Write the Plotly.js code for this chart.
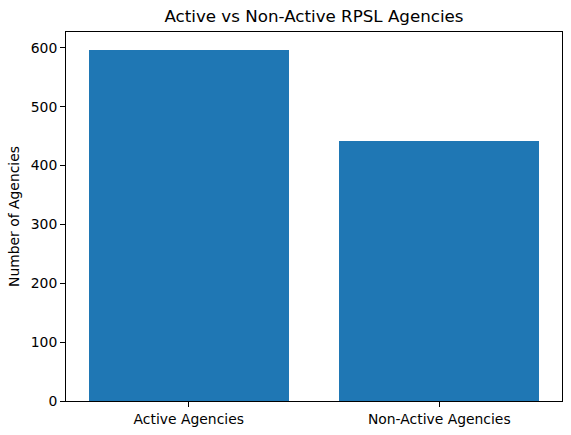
<!DOCTYPE html>
<html><head><meta charset="utf-8">
<script src="https://cdn.plot.ly/plotly-3.0.1.min.js"></script>
<style>html,body{margin:0;padding:0;background:#fff}#c{width:571px;height:435px}</style>
</head><body><div id="c"></div>
<script>
var categories = ["Active Agencies", "Non-Active Agencies"];
var counts = [597, 441];
var yTicks = [0, 100, 200, 300, 400, 500, 600];

var trace = {
  type: "bar",
  x: [0, 1],
  y: counts,
  width: 0.8,
  marker: {color: "#1f77b4", line: {width: 0}},
  hoverinfo: "none"
};
var layout = {
  width: 571, height: 435,
  margin: {l: 66, r: 9, t: 32, b: 34, pad: 0},
  paper_bgcolor: "#fff", plot_bgcolor: "#fff",
  font: {family: "DejaVu Sans", size: 13.9, color: "#000"},
  title: {text: "Active vs Non-Active RPSL Agencies", font: {size: 16.7, color: "#000"}, x: 0.5, xanchor: "center", xref: "paper", y: 1, yref: "container", yanchor: "top", pad: {t: 10}},
  bargap: 0,
  showlegend: false,
  xaxis: {
    range: [-0.49, 1.49],
    tickvals: [0, 1], ticktext: categories,
    ticks: "outside", ticklen: 5, tickwidth: 1, tickcolor: "#000",
    showline: true, linecolor: "#000", linewidth: 1, mirror: true,
    showgrid: false, zeroline: false, fixedrange: true
  },
  yaxis: {
    range: [0, 626.85],
    tickvals: yTicks,
    ticks: "outside", ticklen: 5, tickwidth: 1, tickcolor: "#000",
    showline: true, linecolor: "#000", linewidth: 1, mirror: true,
    showgrid: false, zeroline: false, fixedrange: true,
    title: {text: "Number of Agencies", font: {size: 13.9}, standoff: 7}
  }
};
Plotly.newPlot("c", [trace], layout, {displayModeBar: false, staticPlot: true});
</script></body></html>
